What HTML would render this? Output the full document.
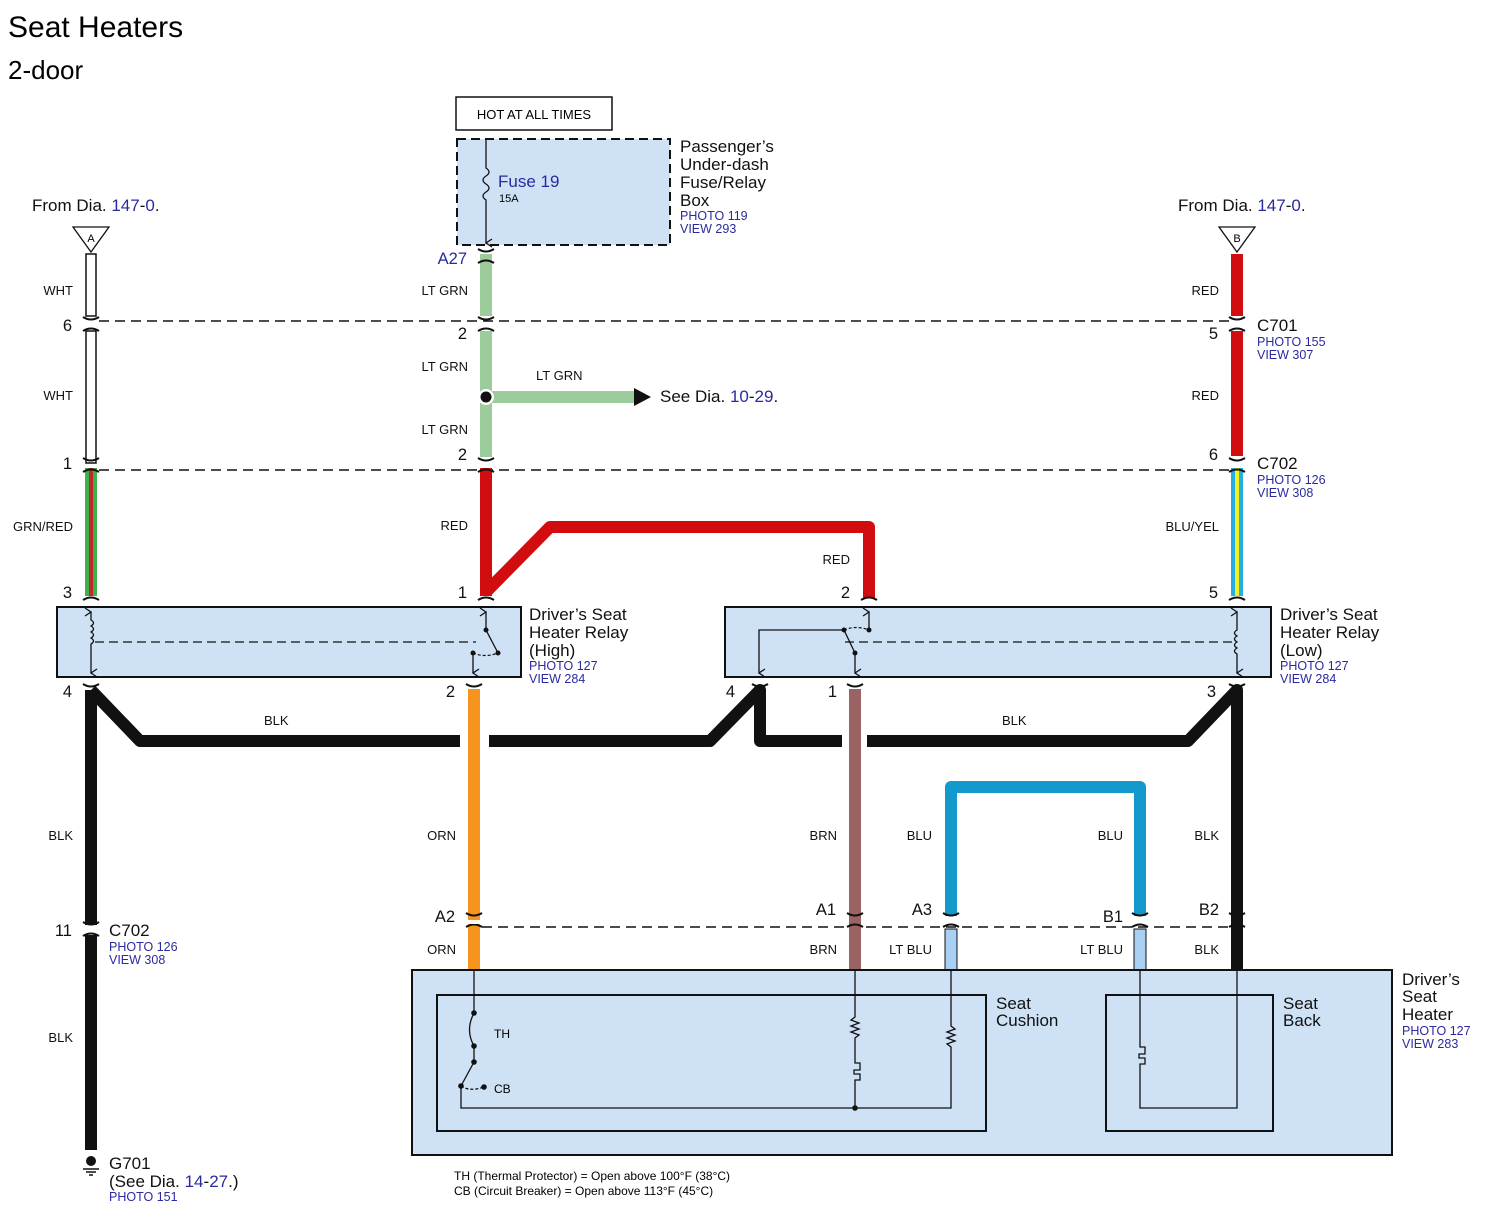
<!DOCTYPE html>
<html><head><meta charset="utf-8"><style>
body{margin:0;background:#fff}
svg{display:block}
text{font-family:"Liberation Sans",sans-serif}
.w{font-size:13px;fill:#111}
.n{font-size:16.5px;fill:#111}
.l{font-size:17px;fill:#111}
.p{font-size:12.5px;fill:#2a2aa0}
.b{fill:#2a2aa0}
</style></head><body>
<svg width="1487" height="1215" viewBox="0 0 1487 1215" xmlns="http://www.w3.org/2000/svg">
<defs>
<marker id="ar" markerWidth="10" markerHeight="10" refX="5" refY="9" orient="auto" markerUnits="userSpaceOnUse"><path d="M1,3 L5,9 L9,3" fill="none" stroke="#111" stroke-width="1.3"/></marker>
<g id="cn"><path d="M-8,-8 Q0,-3 8,-8" fill="none" stroke="#111" stroke-width="2"/><path d="M-8,6 Q0,1 8,6" fill="none" stroke="#111" stroke-width="2"/></g>
</defs>
<text x="8" y="37" style="font-size:30px">Seat Heaters</text>
<text x="8" y="79" style="font-size:26px">2-door</text>

<rect x="456" y="97" width="156" height="33" fill="#fff" stroke="#111" stroke-width="1.5"/>
<text x="534" y="119" text-anchor="middle" style="font-size:13px">HOT AT ALL TIMES</text>
<rect x="457" y="139" width="213" height="106" fill="#cfe2f5" stroke="#111" stroke-width="2" stroke-dasharray="9,5"/>
<path d="M486,139 V168 q6,4 0,8 q-6,4 0,8 q6,4 0,8 q-6,4 0,8 V243" fill="none" stroke="#111" stroke-width="1.3" marker-end="url(#ar)"/>
<text x="498" y="187" class="l b">Fuse 19</text>
<text x="499" y="202" style="font-size:11px">15A</text>
<text x="680" y="152" class="l">Passenger’s</text>
<text x="680" y="170" class="l">Under-dash</text>
<text x="680" y="188" class="l">Fuse/Relay</text>
<text x="680" y="206" class="l">Box</text>
<text x="680" y="220" class="p">PHOTO 119</text>
<text x="680" y="233" class="p">VIEW 293</text>

<text x="32" y="211" class="l">From Dia. <tspan class="b">147</tspan>-<tspan class="b">0</tspan>.</text>
<path d="M73,227 H109 L91,252 Z" fill="#fff" stroke="#111" stroke-width="1.3"/>
<text x="91" y="242" text-anchor="middle" style="font-size:11px">A</text>
<text x="1178" y="211" class="l">From Dia. <tspan class="b">147</tspan>-<tspan class="b">0</tspan>.</text>
<path d="M1219,227 H1255 L1237,252 Z" fill="#fff" stroke="#111" stroke-width="1.3"/>
<text x="1237" y="242" text-anchor="middle" style="font-size:11px">B</text>

<line x1="99" y1="321" x2="1229" y2="321" stroke="#111" stroke-width="1.5" stroke-dasharray="10,6"/>
<line x1="99" y1="470" x2="1229" y2="470" stroke="#111" stroke-width="1.5" stroke-dasharray="10,6"/>
<line x1="482" y1="927" x2="1229" y2="927" stroke="#111" stroke-width="1.5" stroke-dasharray="10,6"/>

<rect x="86" y="254" width="10" height="62" fill="#fff" stroke="#111" stroke-width="1.5"/>
<rect x="86" y="331" width="10" height="132" fill="#fff" stroke="#111" stroke-width="1.5"/>
<rect x="85" y="468" width="12" height="128" fill="#3bb34a"/>
<rect x="89" y="468" width="4" height="128" fill="#c0282a"/>
<rect x="1231" y="254" width="12" height="62" fill="#d10d10"/>
<rect x="1231" y="331" width="12" height="125" fill="#d10d10"/>
<rect x="1231" y="468" width="12" height="128" fill="#25aee0"/>
<rect x="1235" y="468" width="4" height="128" fill="#f0f020"/>
<rect x="480" y="254" width="12" height="62" fill="#9ccc9c"/>
<rect x="480" y="331" width="12" height="126" fill="#9ccc9c"/>
<rect x="486" y="391" width="150" height="12" fill="#9ccc9c"/>
<path d="M634,388 L651,397 L634,406 Z" fill="#111"/>
<circle cx="486" cy="397" r="8" fill="#fff"/><circle cx="486" cy="397" r="5.5" fill="#111"/>
<text x="660" y="402" class="l">See Dia. <tspan class="b">10</tspan>-<tspan class="b">29</tspan>.</text>
<text x="536" y="380" class="w">LT GRN</text>
<rect x="480" y="468" width="12" height="128" fill="#d10d10"/>
<path d="M486,592 L550,527 H869 V598" fill="none" stroke="#d10d10" stroke-width="12" stroke-linejoin="round"/>

<use href="#cn" x="91" y="325"/><use href="#cn" x="486" y="325"/><use href="#cn" x="1237" y="325"/>
<use href="#cn" x="91" y="466"/><use href="#cn" x="486" y="466"/><use href="#cn" x="1237" y="466"/>
<use href="#cn" x="486" y="257"/>
<path d="M83,600 Q91,595 99,600" fill="none" stroke="#111" stroke-width="2"/>
<path d="M478,600 Q486,595 494,600" fill="none" stroke="#111" stroke-width="2"/>
<path d="M861,600 Q869,595 877,600" fill="none" stroke="#111" stroke-width="2"/>
<path d="M1229,600 Q1237,595 1245,600" fill="none" stroke="#111" stroke-width="2"/>
<path d="M83,684 Q91,689 99,684" fill="none" stroke="#111" stroke-width="2"/>
<path d="M466,684 Q474,689 482,684" fill="none" stroke="#111" stroke-width="2"/>
<path d="M752,684 Q760,689 768,684" fill="none" stroke="#111" stroke-width="2"/>
<path d="M847,684 Q855,689 863,684" fill="none" stroke="#111" stroke-width="2"/>
<path d="M1229,684 Q1237,689 1245,684" fill="none" stroke="#111" stroke-width="2"/>

<g class="n">
<text x="72" y="331" text-anchor="end" class="n">6</text>
<text x="467" y="339" text-anchor="end" class="n">2</text>
<text x="1218" y="339" text-anchor="end" class="n">5</text>
<text x="72" y="469" text-anchor="end" class="n">1</text>
<text x="467" y="460" text-anchor="end" class="n">2</text>
<text x="1218" y="460" text-anchor="end" class="n">6</text>
<text x="72" y="598" text-anchor="end" class="n">3</text>
<text x="467" y="598" text-anchor="end" class="n">1</text>
<text x="850" y="598" text-anchor="end" class="n">2</text>
<text x="1218" y="598" text-anchor="end" class="n">5</text>
<text x="72" y="697" text-anchor="end" class="n">4</text>
<text x="455" y="697" text-anchor="end" class="n">2</text>
<text x="735" y="697" text-anchor="end" class="n">4</text>
<text x="837" y="697" text-anchor="end" class="n">1</text>
<text x="1216" y="697" text-anchor="end" class="n">3</text>
<text x="467" y="264" text-anchor="end" class="n b">A27</text>
</g>
<text x="1257" y="331" class="l">C701</text><text x="1257" y="346" class="p">PHOTO 155</text><text x="1257" y="359" class="p">VIEW 307</text>
<text x="1257" y="469" class="l">C702</text><text x="1257" y="484" class="p">PHOTO 126</text><text x="1257" y="497" class="p">VIEW 308</text>

<g class="w" text-anchor="end">
<text x="73" y="295">WHT</text><text x="73" y="400">WHT</text><text x="73" y="531">GRN/RED</text>
<text x="468" y="295">LT GRN</text><text x="468" y="371">LT GRN</text><text x="468" y="434">LT GRN</text><text x="468" y="530">RED</text>
<text x="850" y="564">RED</text>
<text x="1219" y="295">RED</text><text x="1219" y="400">RED</text><text x="1219" y="531">BLU/YEL</text>
<text x="73" y="840">BLK</text><text x="456" y="840">ORN</text><text x="837" y="840">BRN</text><text x="932" y="840">BLU</text><text x="1123" y="840">BLU</text><text x="1219" y="840">BLK</text>
<text x="456" y="954">ORN</text><text x="837" y="954">BRN</text><text x="932" y="954">LT BLU</text><text x="1123" y="954">LT BLU</text><text x="1219" y="954">BLK</text>
<text x="73" y="1042">BLK</text>
</g>
<text x="264" y="725" class="w">BLK</text><text x="1002" y="725" class="w">BLK</text>

<rect x="57" y="607" width="464" height="70" fill="#cfe2f5" stroke="#111" stroke-width="2"/>
<rect x="725" y="607" width="546" height="70" fill="#cfe2f5" stroke="#111" stroke-width="2"/>
<path d="M91,650 V644 q5,-3 0,-6 q5,-3 0,-6 q5,-3 0,-6 q5,-3 0,-6 V612" fill="none" stroke="#111" stroke-width="1.3" marker-end="url(#ar)"/>
<line x1="91" y1="650" x2="91" y2="673" stroke="#111" stroke-width="1.3" marker-end="url(#ar)"/>
<line x1="95" y1="642" x2="476" y2="642" stroke="#111" stroke-width="1.2" stroke-dasharray="9,5"/>
<path d="M486,630 V612" fill="none" stroke="#111" stroke-width="1.3" marker-end="url(#ar)"/>
<line x1="486" y1="630" x2="498" y2="653" stroke="#111" stroke-width="1.3"/>
<circle cx="486" cy="630" r="2.5" fill="#111"/><circle cx="498" cy="653" r="2.5" fill="#111"/>
<path d="M473,653 Q485,658 498,653" fill="none" stroke="#111" stroke-width="1.2" stroke-dasharray="3,2"/>
<circle cx="473" cy="653" r="2.5" fill="#111"/>
<line x1="473" y1="653" x2="473" y2="673" stroke="#111" stroke-width="1.3" marker-end="url(#ar)"/>
<path d="M1237,660 V654 q-5,-3 0,-6 q-5,-3 0,-6 q-5,-3 0,-6 q-5,-3 0,-6 V612" fill="none" stroke="#111" stroke-width="1.3" marker-end="url(#ar)"/>
<line x1="1237" y1="660" x2="1237" y2="673" stroke="#111" stroke-width="1.3" marker-end="url(#ar)"/>
<line x1="845" y1="642" x2="1233" y2="642" stroke="#111" stroke-width="1.2" stroke-dasharray="9,5"/>
<path d="M844,630 H759 V673" fill="none" stroke="#111" stroke-width="1.3" marker-end="url(#ar)"/>
<path d="M869,630 V612" fill="none" stroke="#111" stroke-width="1.3" marker-end="url(#ar)"/>
<path d="M844,630 Q856,625 869,630" fill="none" stroke="#111" stroke-width="1.2" stroke-dasharray="3,2"/>
<line x1="844" y1="630" x2="855" y2="653" stroke="#111" stroke-width="1.3"/>
<circle cx="844" cy="630" r="2.5" fill="#111"/><circle cx="869" cy="630" r="2.5" fill="#111"/><circle cx="855" cy="653" r="2.5" fill="#111"/>
<line x1="855" y1="653" x2="855" y2="673" stroke="#111" stroke-width="1.3" marker-end="url(#ar)"/>

<text x="529" y="620" class="l">Driver’s Seat</text><text x="529" y="638" class="l">Heater Relay</text><text x="529" y="656" class="l">(High)</text>
<text x="529" y="670" class="p">PHOTO 127</text><text x="529" y="683" class="p">VIEW 284</text>
<text x="1280" y="620" class="l">Driver’s Seat</text><text x="1280" y="638" class="l">Heater Relay</text><text x="1280" y="656" class="l">(Low)</text>
<text x="1280" y="670" class="p">PHOTO 127</text><text x="1280" y="683" class="p">VIEW 284</text>

<path d="M91,690 V1150" fill="none" stroke="#111" stroke-width="12"/>
<path d="M91,690 L140,741 H460" fill="none" stroke="#111" stroke-width="12" stroke-linejoin="round"/>
<path d="M489,741 H710 L760,690 V741 H842" fill="none" stroke="#111" stroke-width="12" stroke-linejoin="round"/>
<path d="M867,741 H1188 L1237,690 V970" fill="none" stroke="#111" stroke-width="12" stroke-linejoin="round"/>
<rect x="468" y="689" width="12" height="281" fill="#f7941d"/>
<rect x="849" y="689" width="12" height="281" fill="#9b6464"/>
<path d="M951,916 V787 H1140 V916" fill="none" stroke="#1399cc" stroke-width="12" stroke-linejoin="round"/>
<rect x="945" y="929" width="12" height="41" fill="#a8d0f2" stroke="#111" stroke-width="1"/>
<rect x="1134" y="929" width="12" height="41" fill="#a8d0f2" stroke="#111" stroke-width="1"/>
<rect x="84" y="925" width="14" height="10" fill="#fff"/>
<use href="#cn" x="91" y="930"/>
<use href="#cn" x="474" y="921"/><use href="#cn" x="855" y="921"/><use href="#cn" x="951" y="921"/><use href="#cn" x="1140" y="921"/><use href="#cn" x="1237" y="921"/>
<rect x="467" y="920" width="14" height="4" fill="#fff"/>
<text x="72" y="936" text-anchor="end" class="n">11</text>
<text x="109" y="936" class="l">C702</text><text x="109" y="951" class="p">PHOTO 126</text><text x="109" y="964" class="p">VIEW 308</text>
<text x="455" y="922" text-anchor="end" class="n">A2</text>
<text x="836" y="915" text-anchor="end" class="n">A1</text>
<text x="932" y="915" text-anchor="end" class="n">A3</text>
<text x="1123" y="922" text-anchor="end" class="n">B1</text>
<text x="1219" y="915" text-anchor="end" class="n">B2</text>

<rect x="412" y="970" width="980" height="185" fill="#cfe2f5" stroke="#111" stroke-width="2"/>
<rect x="437" y="995" width="549" height="136" fill="none" stroke="#111" stroke-width="2"/>
<rect x="1106" y="995" width="167" height="136" fill="none" stroke="#111" stroke-width="2"/>
<g fill="none" stroke="#111" stroke-width="1.3">
<path d="M474,970 V1013 Q465,1030 474,1046 V1062 L461,1086 V1108 H951 V1047 l-4,-3 8,-3 -8,-3 8,-3 -8,-3 8,-3 -4,-3 V970"/>
<path d="M461,1086 Q470,1092 484,1087" stroke-dasharray="3,2"/>
<path d="M855,970 V1017 l-4,3 8,3 -8,3 8,3 -8,3 8,3 -4,3 V1063 h5 v7 h-6 v4 h6 v6 h-5 V1108"/>
<path d="M1140,970 V1047 h5 v7 h-6 v4 h6 v6 h-5 V1108 H1237 V970"/>
</g>
<g fill="#111"><circle cx="474" cy="1013" r="2.8"/><circle cx="474" cy="1046" r="2.8"/><circle cx="474" cy="1062" r="2.8"/><circle cx="461" cy="1086" r="2.8"/><circle cx="484" cy="1087" r="2.8"/><circle cx="855" cy="1108" r="2.8"/></g>
<text x="494" y="1038" style="font-size:12px">TH</text>
<text x="494" y="1093" style="font-size:12px">CB</text>
<text x="996" y="1009" class="l">Seat</text><text x="996" y="1026" class="l">Cushion</text>
<text x="1283" y="1009" class="l">Seat</text><text x="1283" y="1026" class="l">Back</text>
<text x="1402" y="985" class="l">Driver’s</text><text x="1402" y="1002" class="l">Seat</text><text x="1402" y="1020" class="l">Heater</text>
<text x="1402" y="1035" class="p">PHOTO 127</text><text x="1402" y="1048" class="p">VIEW 283</text>
<text x="454" y="1180" style="font-size:12px">TH (Thermal Protector) = Open above 100°F (38°C)</text>
<text x="454" y="1195" style="font-size:12px">CB (Circuit Breaker) = Open above 113°F (45°C)</text>

<circle cx="91" cy="1161" r="5" fill="#111"/>
<line x1="83" y1="1169" x2="99" y2="1169" stroke="#111" stroke-width="1.5"/>
<line x1="86" y1="1172" x2="96" y2="1172" stroke="#111" stroke-width="1.5"/>
<line x1="89" y1="1175" x2="93" y2="1175" stroke="#111" stroke-width="1.5"/>
<text x="109" y="1169" class="l">G701</text>
<text x="109" y="1187" class="l">(See Dia. <tspan class="b">14</tspan>-<tspan class="b">27</tspan>.)</text>
<text x="109" y="1201" class="p">PHOTO 151</text>
</svg>
</body></html>
